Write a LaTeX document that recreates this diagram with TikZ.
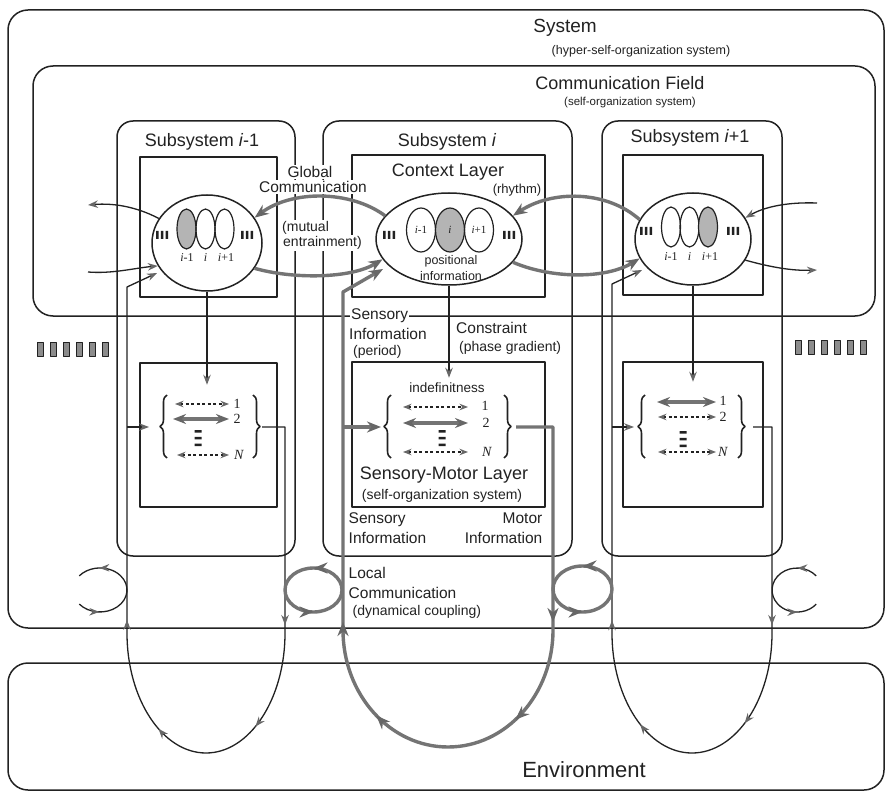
\documentclass[tikz,border=0pt]{standalone}
\usepackage{fontspec}
\setmainfont{Liberation Sans}
\newfontfamily\serifF{Liberation Serif}
\usetikzlibrary{shapes.geometric,arrows.meta,decorations.markings,decorations.pathreplacing}
\definecolor{ink}{HTML}{222222}
\definecolor{gr}{HTML}{747474}
\definecolor{tipc}{HTML}{676767}
\definecolor{shade}{HTML}{B4B4B4}
\newcommand\szXL{\fontsize{22}{24}\selectfont}
\newcommand\szL{\fontsize{18}{20}\selectfont}
\newcommand\szM{\fontsize{15.5}{16.5}\selectfont}
\newcommand\szP{\fontsize{14}{16}\selectfont}
\newcommand\szS{\fontsize{11.5}{13}\selectfont}
\newcommand\szN{\fontsize{12.5}{14}\selectfont}
\tikzset{
  tipA/.tip={Stealth[length=10pt,width=7.5pt,color=tipc]},
  tipB/.tip={Stealth[length=14pt,width=11pt,color=tipc]},
  tipC/.tip={Stealth[length=8.5pt,width=6.5pt,color=tipc]},
  tipD/.tip={Stealth[length=13pt,width=10pt,color=tipc]},
  boxl/.style={draw=ink, line width=1.5pt},
  thinl/.style={draw=ink, line width=1.3pt},
  thickl/.style={draw=gr, line width=3.4pt},
  marr/.style={postaction={decorate,decoration={markings,mark=at position #1 with {\arrow{tipA}}}}},
  marrb/.style={postaction={decorate,decoration={markings,mark=at position #1 with {\arrow{tipB}}}}},
  ell/.style={ellipse, draw=ink, line width=1.5pt, fill=white, inner sep=0pt},
  ov/.style={ellipse, draw=ink, line width=1.2pt, inner sep=0pt},
  txt/.style={inner sep=1pt, text=ink, fill=white},
  ser/.style={inner sep=0.5pt, text=ink, font=\serifF\fontsize{12}{14}\selectfont},
  num/.style={inner sep=0.5pt, text=ink, font=\serifF\fontsize{14}{16}\selectfont},
  brc/.style={draw=ink, line width=1.6pt, decorate, decoration={brace, amplitude=7pt}},
  dsha/.style={draw=ink, line width=1.1pt, dash pattern=on 3pt off 2.5pt, tipC-tipC},
  thkr/.style={draw=gr, line width=3.2pt, tipD-tipD},
  tribar/.pic={\fill[ink] (-6,-4) rectangle (-3.5,4) (-1.25,-4) rectangle (1.25,4) (3.5,-4) rectangle (6,4);},
  vdts/.pic={\fill[ink] (-3.5,-8) rectangle (3.5,-5.5) (-3.5,-1.25) rectangle (3.5,1.25) (-3.5,5.5) rectangle (3.5,8);}
}
\begin{document}
\begin{tikzpicture}[x=1pt,y=-1pt,line join=round]
\useasboundingbox (0,0) rectangle (886,794);
\fill[white] (0,0) rectangle (886,794);

% ---------- frames ----------
\draw[boxl, rounded corners=20pt] (8,10) rectangle (884,628);
\draw[boxl, rounded corners=20pt] (33,66) rectangle (875,316);
\draw[boxl, rounded corners=20pt] (8,663) rectangle (884,790);
\draw[boxl, rounded corners=16pt] (117,121) rectangle (295,556);
\draw[boxl, rounded corners=16pt] (323,121) rectangle (572,556);
\draw[boxl, rounded corners=16pt] (602,121) rectangle (782,556);
\draw[boxl] (140,157) rectangle (277,297);
\draw[boxl] (352,155) rectangle (545,297);
\draw[boxl] (623,155) rectangle (763,295);
\draw[boxl] (140,363) rectangle (277,507);
\draw[boxl] (352,362) rectangle (545,507);
\draw[boxl] (623,362) rectangle (763,507);

% ---------- bar markers ----------
\foreach \i in {0,...,5} {
  \filldraw[fill=black!45, draw=ink, line width=0.7pt] (37+\i*13,342) rectangle ++(6,14);
  \filldraw[fill=black!45, draw=ink, line width=0.7pt] (795+\i*13,340) rectangle ++(6,14);
}

% ---------- bottom loops ----------
\draw[thinl,-tipA,marr=221pt,marr=329pt,marr=442pt,marr=558pt]
  (262,427) -- (285,427) -- (285,633) .. controls (285,699) and (249.6,753) .. (206,753)
  .. controls (162.4,753) and (127,699) .. (127,633) -- (127,287) -- (157,273);
\draw[thinl,-tipA,marr=217pt,marr=321pt,marr=445pt,marr=555pt]
  (753,427) -- (772,427) -- (772,633) .. controls (772,699) and (736.2,753) .. (692,753)
  .. controls (647.8,753) and (612,699) .. (612,633) -- (612,284) -- (642,270);
\draw[thickl,-tipB,marrb=232pt,marrb=340pt,marrb=495pt,marrb=597pt]
  (516,427) -- (553,427) -- (553,630) .. controls (553,694.6) and (506,747) .. (448,747)
  .. controls (390,747) and (343,694.6) .. (343,630) -- (343,292) -- (383,269);

% brace inputs
\coordinate (bi1) at (149,427);
\coordinate (bi2) at (381,427);
\coordinate (bi3) at (634,427);
\draw[thinl,-tipA] (127,427) -- (bi1);
\draw[thickl,-tipB] (343,427) -- (bi2);
\draw[thinl,-tipA] (612,427) -- (bi3);

% local communication loops
\draw[thickl,marrb=0.25,marrb=0.75] (342,590) arc[start angle=0,end angle=360,x radius=28.5pt,y radius=22pt];
\draw[thickl,marrb=0.25,marrb=0.75] (612,589) arc[start angle=0,end angle=360,x radius=29.5pt,y radius=23pt];
\draw[thinl,marr=0.18,marr=0.82] (79.3,604.1) arc[start angle=-140,end angle=140,x radius=27pt,y radius=22pt];
\draw[thinl,marr=0.18,marr=0.82] (816.2,575.9) arc[start angle=40,end angle=320,x radius=25pt,y radius=22pt];

% ---------- context ellipses ----------
\node[ell, minimum width=110pt, minimum height=96pt] (E1) at (207,243) {};
\node[ell, minimum width=146pt, minimum height=92pt] (E2) at (449,239) {};
\node[ell, minimum width=116pt, minimum height=92pt] (E3) at (693,239) {};

\node[ov, fill=shade, minimum width=19pt, minimum height=40pt] (E1a) at (186.5,229) {};
\node[ov, minimum width=19pt, minimum height=40pt] (E1b) at (205.5,229) {};
\node[ov, minimum width=19pt, minimum height=40pt] (E1c) at (224.5,229) {};
\node[ser] (l1a) at (187,258) {\textit{i}-1};
\node[ser] (l1b) at (205.5,258) {\textit{i}};
\node[ser] (l1c) at (226,258) {\textit{i}+1};
\pic at (162,235) {tribar};
\pic at (247,235) {tribar};

\node[ov, minimum width=29pt, minimum height=44pt] (E2a) at (421,230) {};
\node[ov, fill=shade, minimum width=29pt, minimum height=44pt] (E2b) at (450,230) {};
\node[ov, minimum width=29pt, minimum height=44pt] (E2c) at (479,230) {};
\node[ser, font=\serifF\fontsize{11}{13}\selectfont] at (E2a) {\textit{i}-1};
\node[ser, font=\serifF\fontsize{11}{13}\selectfont] at (E2b) {\textit{i}};
\node[ser, font=\serifF\fontsize{11}{13}\selectfont] at (E2c) {\textit{i}+1};
\pic at (389,235) {tribar};
\pic at (509,235) {tribar};
\node[inner sep=0.5pt, text=ink, font=\szN] (pos1) at (451,261) {positional};
\node[inner sep=0.5pt, text=ink, font=\szN] (pos2) at (451,276) {information};

\node[ov, minimum width=19pt, minimum height=40pt] (E3a) at (671,227) {};
\node[ov, minimum width=19pt, minimum height=40pt] (E3b) at (689.5,227) {};
\node[ov, fill=shade, minimum width=19pt, minimum height=40pt] (E3c) at (708,227) {};
\node[ser] (l3a) at (671,257) {\textit{i}-1};
\node[ser] (l3b) at (689.5,257) {\textit{i}};
\node[ser] (l3c) at (710,257) {\textit{i}+1};
\pic at (646,231) {tribar};
\pic at (733,231) {tribar};

% global communication
\draw[thickl,-tipB] (E2.160) .. controls (350,190) and (292,190) .. (E1.28);
\draw[thickl,-tipB] (E1.332) .. controls (292,279) and (350,279) .. (E2.197);
\draw[thickl,-tipB] (E3.160) .. controls (606,190) and (552,190) .. (E2.20);
\draw[thickl,-tipB] (E2.340) .. controls (552,279) and (606,279) .. (E3.200);

% outer thin arrows
\coordinate (oL1) at (88,205);
\coordinate (iL1) at (88,272);
\coordinate (iR1) at (817,203);
\coordinate (oR1) at (817,270);
\draw[thinl,-tipA] (E1.153) .. controls (135,206) and (112,203) .. (oL1);
\draw[thinl,-tipA] (iL1) .. controls (112,274) and (135,268) .. (E1.205);
\draw[thinl,-tipA] (iR1) .. controls (790,202) and (766,206) .. (E3.22);
\draw[thinl,-tipA] (E3.338) .. controls (770,267) and (792,271) .. (oR1);

% constraints down
\draw[thinl,-tipA] (E1.south) -- ++(0,93);
\draw[thinl,line width=1.9pt,-tipA] (E2.south) -- ++(0,92);
\draw[thinl,-tipA] (E3.south) -- ++(0,96);

% ---------- sensory-motor braces ----------
\draw[brc] (167,458) -- (167,395);
\draw[brc] (253,395) -- (253,458);
\draw[dsha] (175,404) -- (229,404);
\draw[thkr] (173,419) -- (229,419);
\draw[dsha] (177,455) -- (229,455);
\node[num] (n11) at (237,404) {1};
\node[num] (n12) at (237,419) {2};
\node[num] (n1N) at (239,455) {\textit{N}};
\pic at (198,438) {vdts};

\draw[brc] (391,458) -- (391,395);
\draw[brc] (504,395) -- (504,458);
\draw[dsha] (403,407) -- (468,407);
\draw[thkr] (403,423) -- (468,423);
\draw[dsha] (403,452) -- (468,452);
\node[num] (n21) at (485,406) {1};
\node[num] (n22) at (486,423) {2};
\node[num] (n2N) at (487,452) {\textit{N}};
\pic at (442,438) {vdts};

\draw[brc] (645,458) -- (645,395);
\draw[brc] (738,395) -- (738,458);
\draw[thkr] (657,402) -- (716,402);
\draw[dsha] (658,417) -- (716,417);
\draw[dsha] (658,452) -- (716,452);
\node[num] (n31) at (723,401) {1};
\node[num] (n32) at (723,417) {2};
\node[num] (n3N) at (723,452) {\textit{N}};
\pic at (683,439) {vdts};

% ---------- texts ----------
\node[txt] (tSys) at (565,28) {\fontsize{19}{21}\selectfont System};
\node[txt] (tSys2) at (641,51) {\fontsize{12.5}{14}\selectfont (hyper-self-organization system)};
\node[txt] (tCF) at (620,83) {\szL Communication Field};
\node[txt] (tCF2) at (630,103) {\szS (self-organization system)};
\node[txt] (tS1) at (202,142) {\szL Subsystem \textit{i}-1};
\node[txt] (tS2) at (447,142) {\szL Subsystem \textit{i}};
\node[txt] (tS3) at (690,138) {\szL Subsystem \textit{i}+1};
\node[txt] (tCL) at (448,172) {\szL Context Layer};
\node[txt] (tRh) at (517,190) {\fontsize{13}{15}\selectfont (rhythm)};
\node[txt] (tGl1) at (310,172) {\szM Global};
\node[txt] (tGl2) at (313,187) {\szM Communication};
\node[txt,anchor=west] (tMu1) at (281,228) {\szP (mutual};
\node[txt,anchor=west] (tMu2) at (282,243) {\szP entrainment)};
\node[txt,anchor=west] (tSI1) at (350,316) {\szM Sensory};
\node[txt,anchor=west] (tSI2) at (348,334) {\szM Information};
\node[txt,anchor=west] (tSI3) at (352,352) {\szP (period)};
\node[txt,anchor=west] (tCo1) at (455,328) {\szM Constraint};
\node[txt,anchor=west] (tCo2) at (458,348) {\szP (phase gradient)};
\node[inner sep=0.5pt, text=ink] (tInd) at (447,388) {\fontsize{13.5}{15}\selectfont indefinitness};
\node[inner sep=0.5pt, text=ink] (tSM1) at (444,475) {\szL Sensory-Motor Layer};
\node[inner sep=0.5pt, text=ink] (tSM2) at (442,496) {\szP (self-organization system)};
\node[inner sep=0.5pt, text=ink, anchor=west] (tSb1) at (348,520) {\szM Sensory};
\node[inner sep=0.5pt, text=ink, anchor=west] (tSb2) at (348,538) {\szM Information};
\node[inner sep=0.5pt, text=ink, anchor=east] (tMo1) at (543,518) {\szM Motor};
\node[inner sep=0.5pt, text=ink, anchor=east] (tMo2) at (543,538) {\szM Information};
\node[inner sep=0.5pt, text=ink, anchor=west] (tLC1) at (348,573) {\szM Local};
\node[inner sep=0.5pt, text=ink, anchor=west] (tLC2) at (348,593) {\szM Communication};
\node[inner sep=0.5pt, text=ink, anchor=west] (tLC3) at (352,612) {\szP (dynamical coupling)};
\node[inner sep=0.5pt, text=ink] (tEnv) at (584,770) {\szXL Environment};
\end{tikzpicture}
\end{document}
